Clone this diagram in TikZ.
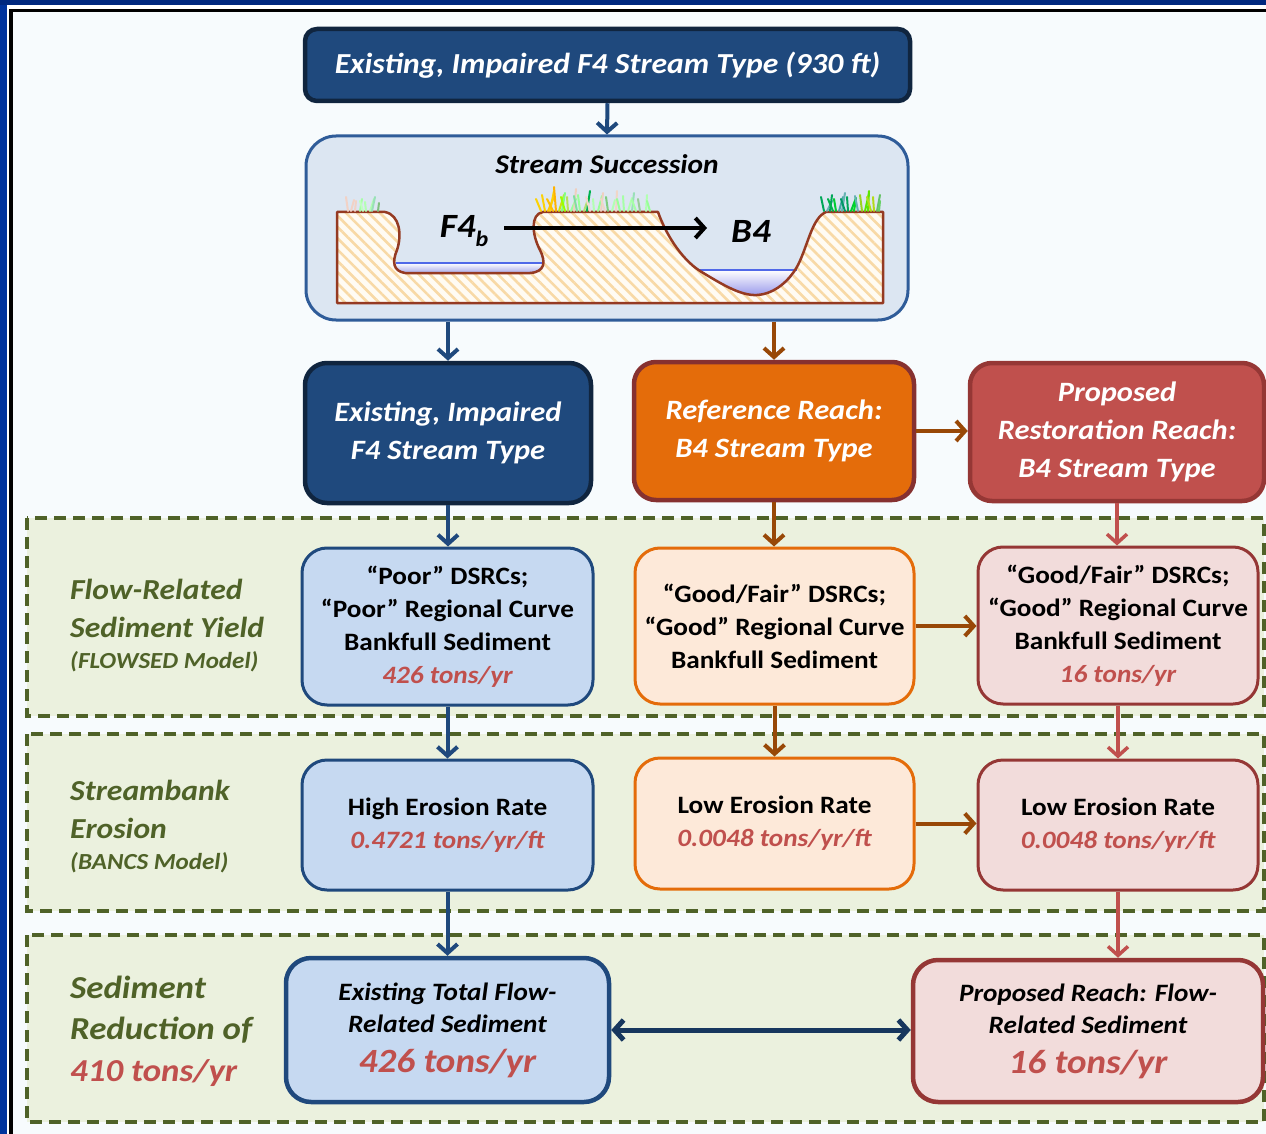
\documentclass[tikz,border=0pt]{standalone}
\usepackage{fontspec}
\setmainfont[FakeStretch=1.09]{Carlito}
\usetikzlibrary{arrows.meta,patterns.meta,calc}

\definecolor{frameblue}{HTML}{00287F}
\definecolor{frameleft}{HTML}{00339C}
\definecolor{pagebg}{HTML}{F7FBFD}
\definecolor{navyfill}{HTML}{1F497D}
\definecolor{navyline}{HTML}{10253F}
\definecolor{succfill}{HTML}{DCE6F2}
\definecolor{succline}{HTML}{2F5C99}
\definecolor{orangefill}{HTML}{E46C0A}
\definecolor{maroonline}{HTML}{953735}
\definecolor{redfill}{HTML}{C0504D}
\definecolor{paleblue}{HTML}{C6D9F1}
\definecolor{palepeach}{HTML}{FDE9D9}
\definecolor{palepink}{HTML}{F2DCDB}
\definecolor{bandfill}{HTML}{EBF1DE}
\definecolor{olive}{HTML}{4F6228}
\definecolor{brownarrow}{HTML}{984807}
\definecolor{valred}{HTML}{C0504D}
\definecolor{darknavy}{HTML}{17375E}
\definecolor{groundline}{HTML}{953A22}
\definecolor{hatchbg}{HTML}{FFFBF3}
\definecolor{hatchfg}{HTML}{F8D9A6}
\definecolor{waterline}{HTML}{5068E8}
\definecolor{waterdeep}{HTML}{A8A8E8}

\tikzset{
  box/.style={rounded corners=#1, align=center, inner sep=0pt},
  hdrbox/.style={box=22pt, line width=4.5pt, text=white,
    font=\fontsize{28}{38}\selectfont\bfseries\itshape},
  midbox/.style={box=25pt, line width=3pt,
    font=\fontsize{25}{33}\selectfont\bfseries},
  bluebox/.style={midbox, fill=paleblue, draw=navyfill},
  peachbox/.style={midbox, fill=palepeach, draw=orangefill},
  pinkbox/.style={midbox, fill=palepink, draw=maroonline},
  band/.style={fill=bandfill, draw=olive, line width=3.5pt,
    dash pattern=on 12pt off 7pt},
  lab/.style={anchor=west, inner sep=0pt, text=olive,
    font=\fontsize{29}{29}\selectfont\bfseries\itshape},
  labsmall/.style={lab, font=\fontsize{23}{23}\selectfont\bfseries\itshape},
  labbig/.style={lab, font=\fontsize{32}{32}\selectfont\bfseries\itshape},
  tip/.tip={Straight Barb[length=9pt,width=20pt]},
  arrblue/.style={draw=navyfill, line width=4pt, -tip},
  arrbrown/.style={draw=brownarrow, line width=4pt, -tip},
  arrred/.style={draw=redfill, line width=3.5pt, -tip},
  ground/.style={draw=groundline, line width=2.5pt, line join=round},
}
\newcommand{\val}[1]{{\itshape\color{valred}#1}}

\begin{document}
\begin{tikzpicture}[x=1pt,y=-1pt]
\useasboundingbox (0,0) rectangle (1266,1134);

% frame
\fill[frameblue] (0,0) rectangle (1266,1134);
\fill[frameleft] (0,5) rectangle (7,1134);
\fill[white] (7,5) rectangle (1266,1134);
\fill[black] (9,9) rectangle (1266,1134);
\fill[pagebg] (12.5,12.5) rectangle (1266,1134);

% dashed bands
\draw[band] (27,518) rectangle (1264,716);
\draw[band] (27,734) rectangle (1264,911);
\draw[band] (27,935) rectangle (1264,1122);

% band labels
\node[lab] (fr1) at (70,589) {Flow-Related};
\node[lab] (fr2) at (70,627) {Sediment Yield};
\node[labsmall] (fr3) at (70,662) {(FLOWSED Model)};
\node[lab] (se1) at (70,790) {Streambank};
\node[lab] (se2) at (70,828) {Erosion};
\node[labsmall] (se3) at (70,863) {(BANCS Model)};
\node[labbig] (sr1) at (70,987) {Sediment};
\node[labbig] (sr2) at (70,1030) {Reduction of};
\node[labbig, text=valred] (sr3) at (70,1073) {410 tons/yr};

% top box
\node[box=12pt, line width=4.5pt, fill=navyfill, draw=navyline, text=white,
  font=\fontsize{29}{34}\selectfont\bfseries\itshape,
  minimum width=605pt, minimum height=72pt] (top) at (607.5,65)
  {Existing, Impaired F4 Stream Type (930 ft)};

% stream succession box
\node[box=30pt, line width=3pt, fill=succfill, draw=succline,
  minimum width=602pt, minimum height=184pt] (succ) at (607,228) {};
\node[font=\fontsize{27}{27}\selectfont\bfseries\itshape, inner sep=0pt]
  (succt) at (607,164) {Stream Succession};

% ground profile with two channels
\def\groundpath{(337,212) -- (385,212)
  .. controls (400,215) and (402,235) .. (397,250)
  .. controls (392,262) and (393,271) .. (405,273) -- (530,273)
  .. controls (545,272) and (546,262) .. (540,250)
  .. controls (532,235) and (530,214) .. (543,212) -- (658,212)
  .. controls (665,232) and (680,258) .. (700,271)
  .. controls (720,283) and (740,296) .. (757,295)
  .. controls (775,294) and (790,280) .. (798,265)
  .. controls (808,245) and (812,218) .. (826,212) -- (883,212)
  -- (883,303) -- (337,303) -- cycle}
\fill[hatchbg] \groundpath;
\fill[pattern={Lines[angle=-45,distance=8pt,line width=2.6pt]},
  pattern color=hatchfg] \groundpath;

% water in the channels
\shade[top color=white, bottom color=waterdeep]
  (396,263) -- (543,263) .. controls (544,268) and (540,272) .. (530,273)
  -- (405,273) .. controls (398,271) and (396,267) .. (396,263) -- cycle;
\draw[waterline, line width=1.5pt] (396,263) -- (543,263);
\shade[top color=white, bottom color=waterdeep!90!blue]
  (699,270) -- (797,270) .. controls (790,282) and (775,294) .. (757,295)
  .. controls (740,296) and (718,282) .. (699,270) -- cycle;
\draw[waterline, line width=1.5pt] (699,270) -- (797,270);
\draw[ground] \groundpath;

% grass tufts on the banks
\foreach \x/\dx/\h/\c in {
  348/-2/14/pink!60!brown!50, 351/3/11/pink!60!brown!50, 355/1/10/pink!60!brown!50,
  360/2/12/green!35, 363/-3/10/green!25, 366/-1/9/green!30,
  370/4/12/green!30, 372/3/14/green!40!teal!40, 378/1/8/green!50!black!50,
  541/-5/12/yellow!70!orange, 545/-3/16/yellow!70!orange, 548/6/14/yellow!60!orange,
  550/4/20/yellow!70!orange, 553/-6/12/orange!50!yellow, 556/-2/24/orange!60!yellow,
  559/5/16/yellow!80!green, 562/3/18/green!50, 565/-4/14/green!40!yellow,
  568/-1/14/yellow!60!green!70, 571/5/12/green!40, 574/2/22/pink!50!brown!50,
  577/-3/15/green!50!teal!50, 580/-2/16/green!40, 584/4/12/yellow!50!green!60,
  587/3/20/teal!60!green, 590/-4/14/pink!50!brown!40, 594/-1/12/green!30,
  598/4/15/green!40, 601/2/18/pink!50!brown!50, 605/-4/12/pink!40!brown!40,
  608/-2/14/green!60!black!50, 612/3/11/green!30, 616/1/20/pink!40!brown!40,
  620/-3/12/green!40, 624/-1/15/green!35, 628/4/13/green!30,
  632/2/18/green!40!teal!40, 636/-4/11/green!35, 640/-2/12/green!50!black!40,
  646/1/16/green!30, 650/-3/10/green!40,
  824/-3/14/teal!70!green, 827/5/10/teal!60, 830/2/16/teal!70!green,
  833/-5/12/teal!60!green, 836/-2/12/green!60!teal, 839/4/14/teal!70,
  842/3/18/teal!60, 845/-4/12/teal!80!green, 848/-1/14/teal!70!green,
  851/5/13/green!60!teal, 854/2/12/green!70!teal, 858/-3/15/teal!60,
  862/-2/16/yellow!60!green, 865/4/18/green!60!yellow!90!black,
  868/1/20/green!60!yellow!90!black, 871/-4/14/yellow!70!green,
  874/-1/14/yellow!70!green, 877/3/16/green!60!black!60, 879/1/10/green!70!black!60}
  \draw[\c, line width=2pt, line cap=round] (\x,211) -- ++(\dx,-\h);

% succession labels and arrow
\node[font=\fontsize{34}{34}\selectfont\bfseries\itshape, inner sep=0pt]
  (f4) at (464,231) {F4\raisebox{-0.28em}{\fontsize{22}{22}\selectfont b}};
\node[font=\fontsize{34}{34}\selectfont\bfseries\itshape, inner sep=0pt]
  (b4) at (751,231) {B4};
\draw[line width=4pt, -{Straight Barb[length=9pt,width=20pt]}]
  ([xshift=16pt,yshift=3pt]f4.east) -- ([xshift=-24pt,yshift=3pt]b4.west);

% reach type boxes
\node[hdrbox, fill=navyfill, draw=navyline,
  minimum width=286pt, minimum height=140pt] (exist) at (448,433)
  {Existing, Impaired\\F4 Stream Type};
\node[hdrbox, fill=orangefill, draw=maroonline!90!black,
  minimum width=280pt, minimum height=138pt] (refr) at (774,431)
  {Reference Reach:\\B4 Stream Type};
\node[hdrbox, fill=redfill, draw=maroonline,
  minimum width=294pt, minimum height=138pt] (prop) at (1117,432)
  {Proposed\\Restoration Reach:\\B4 Stream Type};

% flow-related sediment yield
\node[bluebox, minimum width=291pt, minimum height=157pt] (poor) at (447.5,626.5)
  {“Poor” DSRCs;\\“Poor” Regional Curve\\Bankfull Sediment\\\val{426 tons/yr}};
\node[peachbox, minimum width=279pt, minimum height=156pt] (gfref) at (774.5,626)
  {“Good/Fair” DSRCs;\\“Good” Regional Curve\\Bankfull Sediment};
\node[pinkbox, minimum width=280pt, minimum height=157pt] (gfprop) at (1118,625.5)
  {“Good/Fair” DSRCs;\\“Good” Regional Curve\\Bankfull Sediment\\\val{16 tons/yr}};

% streambank erosion
\node[bluebox, minimum width=291pt, minimum height=130pt] (high) at (447.5,825)
  {High Erosion Rate\\\val{0.4721 tons/yr/ft}};
\node[peachbox, minimum width=279pt, minimum height=131pt] (lowref) at (774.5,823.5)
  {Low Erosion Rate\\\val{0.0048 tons/yr/ft}};
\node[pinkbox, minimum width=280pt, minimum height=130pt] (lowprop) at (1118,825)
  {Low Erosion Rate\\\val{0.0048 tons/yr/ft}};

% totals
\node[box=25pt, line width=4.5pt, fill=paleblue, draw=navyfill,
  font=\fontsize{25}{32}\selectfont\bfseries\itshape,
  minimum width=323pt, minimum height=144pt] (extot) at (447.5,1030)
  {Existing Total Flow-\\Related Sediment\\[8pt]{\fontsize{34}{34}\selectfont\color{valred}426 tons/yr}};
\node[box=25pt, line width=4.5pt, fill=palepink, draw=maroonline,
  font=\fontsize{25}{32}\selectfont\bfseries\itshape,
  minimum width=350pt, minimum height=142pt] (propreach) at (1088,1031)
  {Proposed Reach: Flow-\\Related Sediment\\[8pt]{\fontsize{34}{34}\selectfont\color{valred}16 tons/yr}};

% connectors
\draw[arrblue] (top.south) -- (succ.north);
\draw[arrblue] (succ.south -| exist.north) -- (exist.north);
\draw[arrbrown] (succ.south -| refr.north) -- (refr.north);
\draw[arrbrown] (refr.east) -- (refr.east -| prop.west);
\draw[arrblue] (exist.south) -- (exist.south |- poor.north);
\draw[arrbrown] (refr.south) -- (refr.south |- gfref.north);
\draw[arrred] (prop.south) -- (prop.south |- gfprop.north);
\draw[arrbrown] (gfref.east) -- (gfref.east -| gfprop.west);
\draw[arrblue] (poor.south) -- (poor.south |- high.north);
\draw[arrbrown] (gfref.south) -- (gfref.south |- lowref.north);
\draw[arrred] (gfprop.south) -- (gfprop.south |- lowprop.north);
\draw[arrbrown] (lowref.east) -- (lowref.east -| lowprop.west);
\draw[arrblue] (high.south) -- (high.south |- extot.north);
\draw[arrred] (lowprop.south) -- (lowprop.south |- propreach.north);
\draw[draw=darknavy, line width=5pt, tip-tip] (extot.east) -- (extot.east -| propreach.west);

\end{tikzpicture}
\end{document}
